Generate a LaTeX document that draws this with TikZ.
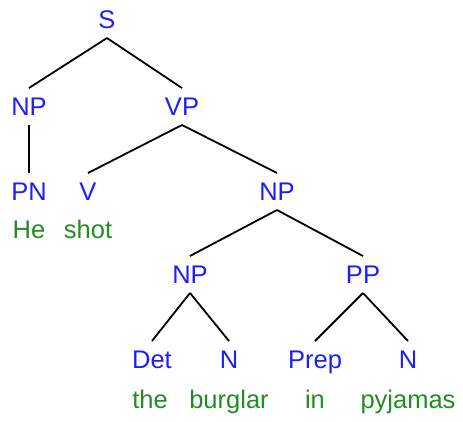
\documentclass[tikz,border=0pt]{standalone}
\usepackage{fontspec}
\setmainfont{Liberation Sans}
\definecolor{catblue}{RGB}{30,30,250}
\definecolor{wordgreen}{RGB}{35,140,35}
\tikzset{
  lbl/.style={anchor=base, inner sep=0pt, outer xsep=0pt, outer ysep=10pt,
    text height=17pt, text depth=0pt, font=\fontsize{25.5}{30}\selectfont},
  cat/.style={lbl, text=catblue},
  word/.style={lbl, text=wordgreen},
  branch/.style={draw=black, line width=1.8pt}
}
\begin{document}
\begin{tikzpicture}[x=1pt, y=-1pt]
  \fill[white] (0,0) rectangle (463,421);
  \useasboundingbox (0,0) rectangle (463,421);

  % category labels
  \node[cat] (S)    at (107,28)  {S};
  \node[cat] (NPa)  at (29,115)  {NP};
  \node[cat] (VP)   at (182,115) {VP};
  \node[cat] (PN)   at (29,200)  {PN};
  \node[cat] (V)    at (88,200)  {V};
  \node[cat] (NPb)  at (277,200) {NP};
  \node[cat] (NPc)  at (190,283) {NP};
  \node[cat] (PP)   at (363,283) {PP};
  \node[cat] (Det)  at (152,368) {Det};
  \node[cat] (Na)   at (229,368) {N};
  \node[cat] (Prep) at (315,368) {Prep};
  \node[cat] (Nb)   at (408,368) {N};

  % words
  \node[word] (he)      at (29,238)  {He};
  \node[word] (shot)    at (88,238)  {shot};
  \node[word] (the)     at (150,408) {the};
  \node[word] (burglar) at (229,408) {burglar};
  \node[word] (in)      at (315,408) {in};
  \node[word] (pyjamas) at (408,408) {pyjamas};

  % branches
  \draw[branch] (S.south) -- (NPa.north);
  \draw[branch] (S.south) -- (VP.north);
  \draw[branch] (NPa.south) -- (PN.north);
  \draw[branch] (VP.south) -- (V.north);
  \draw[branch] (VP.south) -- (NPb.north);
  \draw[branch] (NPb.south) -- (NPc.north);
  \draw[branch] (NPb.south) -- (PP.north);
  \draw[branch] (NPc.south) -- (Det.north);
  \draw[branch] (NPc.south) -- (Na.north);
  \draw[branch] (PP.south) -- (Prep.north);
  \draw[branch] (PP.south) -- (Nb.north);
\end{tikzpicture}
\end{document}
